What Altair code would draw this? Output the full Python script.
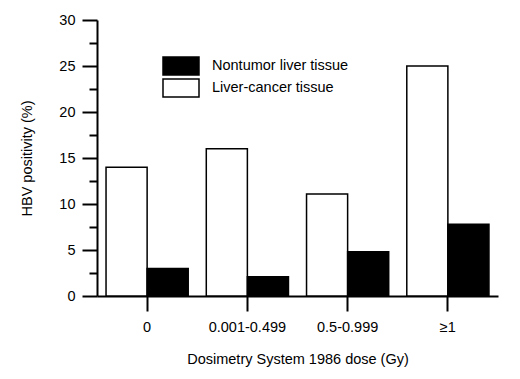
import altair as alt
import pandas as pd

doses = ["0", "0.001-0.499", "0.5-0.999", "≥1"]
nontumor = [3.0, 2.1, 4.8, 7.8]
cancer = [14.0, 16.0, 11.1, 25.0]
series = ["Nontumor liver tissue", "Liver-cancer tissue"]
y_ticks = [0, 2.5, 5, 7.5, 10, 12.5, 15, 17.5, 20, 22.5, 25, 27.5, 30]

rows = []
for d, n, c in zip(doses, nontumor, cancer):
    rows.append({"dose": d, "tissue": series[1], "value": c})
    rows.append({"dose": d, "tissue": series[0], "value": n})
df = pd.DataFrame(rows)

FONT = "Liberation Sans"

chart = alt.Chart(df).mark_bar(stroke="black", strokeWidth=1.5).encode(
    x=alt.X("dose:N", sort=doses,
            scale=alt.Scale(paddingInner=0, paddingOuter=0),
            axis=alt.Axis(title="Dosimetry System 1986 dose (Gy)", labelAngle=0,
                          tickSize=15, tickWidth=2, domainWidth=2, labelPadding=9,
                          titlePadding=19)),
    xOffset=alt.XOffset("tissue:N", sort=[series[1], series[0]],
                        scale=alt.Scale(paddingInner=0, paddingOuter=0.22)),
    y=alt.Y("value:Q", scale=alt.Scale(domain=[0, 30], nice=False),
            axis=alt.Axis(title="HBV positivity (%)", values=y_ticks,
                          labelExpr="datum.value % 5 === 0 ? datum.label : ''",
                          tickSize={"condition": {"test": "datum.value % 5 === 0", "value": 15}, "value": 8},
                          tickWidth=2, domainWidth=2, labelPadding=7, titlePadding=24)),
    fill=alt.Fill("tissue:N",
                  scale=alt.Scale(domain=series, range=["black", "white"]),
                  legend=alt.Legend(title=None, orient="none", legendX=74, legendY=36,
                                    symbolType="M-2,-1H2V1H-2Z", symbolSize=324,
                                    symbolStrokeColor="black", symbolStrokeWidth=1.5,
                                    labelFontSize=14.5, labelFont=FONT, labelColor="black",
                                    labelOffset=21, rowPadding=-4)),
).properties(
    width=401, height=276,
    autosize=alt.AutoSizeParams(type="none"),
    padding={"left": 89, "top": 12, "right": 10, "bottom": 75},
).configure(background="white").configure_view(stroke=None).configure_axis(
    labelFont=FONT, titleFont=FONT, labelFontSize=14.5, titleFontSize=14.5,
    labelColor="black", titleColor="black", tickColor="black", domainColor="black",
    grid=False, titleFontWeight="normal",
)

chart.save("out.html", embed_options={"renderer": "svg", "actions": False})
